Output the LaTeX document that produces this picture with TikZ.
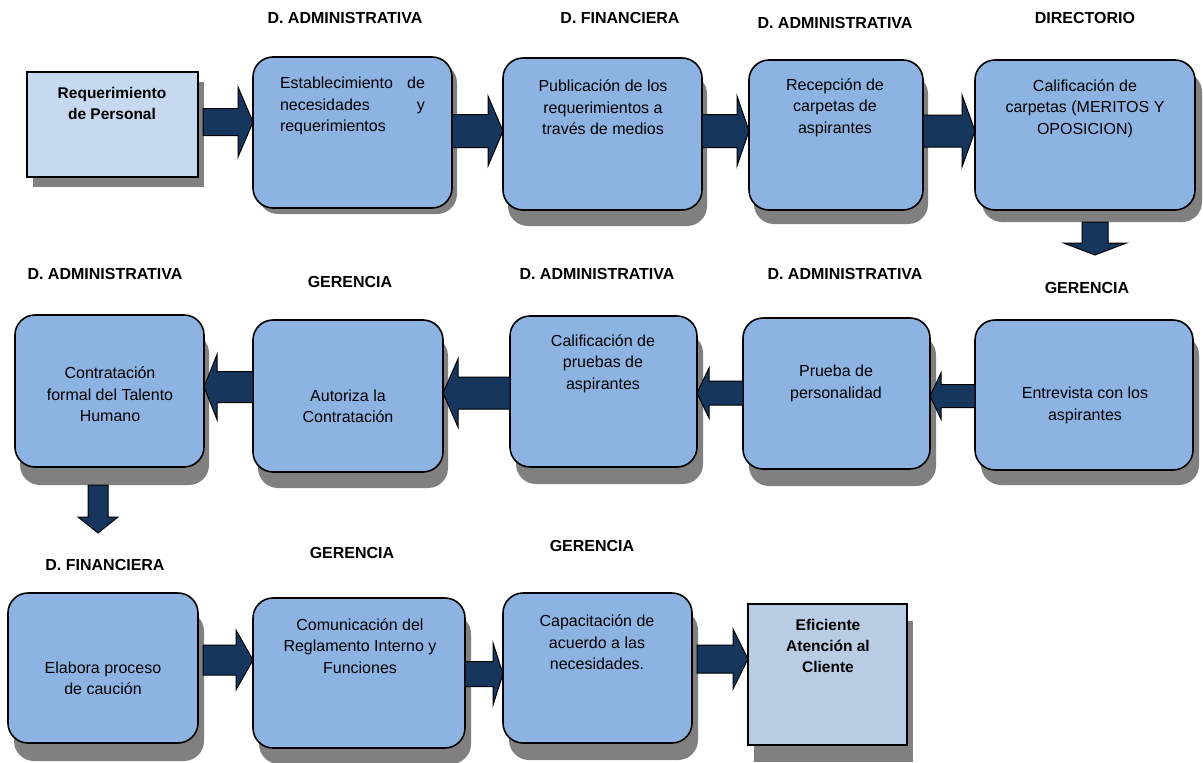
\documentclass[tikz,border=0pt]{standalone}
\usepackage{fontspec}
\setmainfont{Liberation Sans}
\usetikzlibrary{calc,backgrounds}

\definecolor{boxblue}{RGB}{141,179,226}
\definecolor{startblue}{RGB}{198,217,241}
\definecolor{endblue}{RGB}{184,204,228}
\definecolor{navy}{RGB}{23,54,93}
\definecolor{shadowgray}{RGB}{128,128,128}

\tikzset{
  x=1pt, y=-1pt,
  stage/.style={draw=black, line width=1.6pt, fill=boxblue, rounded corners=20pt,
    inner sep=0pt, outer sep=0pt},
  terminal/.style={draw=black, line width=1.4pt, inner sep=0pt, outer sep=0pt},
  boxtext/.style={align=center, inner sep=0pt,
    font=\fontsize{16}{21.5}\selectfont},
  boldtext/.style={boxtext, font=\fontsize{15.5}{21}\selectfont\bfseries},
  unit/.style={inner sep=0pt, font=\fontsize{16}{18}\selectfont\bfseries},
  flow/.style={fill=navy, draw=black, line width=1pt, line join=miter},
}

% box from its two corners: name, style, x1, y1, x2, y2
\newcommand\stagebox[6]{%
  \node[#2, minimum width={(#5-#3)*1pt}, minimum height={(#6-#4)*1pt}]
    (#1) at ({(#3+#5)/2},{(#4+#6)/2}) {};}

% drop shadow behind a box: name, dx, dy, corner radius
\newcommand\dropshadow[4]{%
  \fill[shadowgray, rounded corners=#4]
    ($(#1.north west)+(#2,#3)$) rectangle ($(#1.south east)+(#2,#3)$);}

% block arrow pointing right: from, to, axis y, shaft half, head half, head length, start offset
\newcommand\arrowright[7]{%
  \path[flow] let \p1=(#1.east), \p2=(#2.west) in
    ({\x1+#7pt},{-(#3-#4)*1pt}) -- ({\x2-#6pt},{-(#3-#4)*1pt})
    -- ({\x2-#6pt},{-(#3-#5)*1pt}) -- (\x2,{-#3pt})
    -- ({\x2-#6pt},{-(#3+#5)*1pt}) -- ({\x2-#6pt},{-(#3+#4)*1pt})
    -- ({\x1+#7pt},{-(#3+#4)*1pt}) -- cycle;}

% block arrow pointing left: from, to, axis y, shaft half, head half, head length
\newcommand\arrowleft[6]{%
  \path[flow] let \p1=(#1.west), \p2=(#2.east) in
    (\x1,{-(#3-#4)*1pt}) -- ({\x2+#6pt},{-(#3-#4)*1pt})
    -- ({\x2+#6pt},{-(#3-#5)*1pt}) -- (\x2,{-#3pt})
    -- ({\x2+#6pt},{-(#3+#5)*1pt}) -- ({\x2+#6pt},{-(#3+#4)*1pt})
    -- (\x1,{-(#3+#4)*1pt}) -- cycle;}

% block arrow pointing down: from, tip coordinate, shaft half, head half, head length, start offset
\newcommand\arrowdown[6]{%
  \path[flow] let \p1=(#1.south), \p2=(#2) in
    ({\x2-#3pt},{\y1-#6pt}) -- ({\x2-#3pt},{\y2+#5pt})
    -- ({\x2-#4pt},{\y2+#5pt}) -- (\x2,\y2)
    -- ({\x2+#4pt},{\y2+#5pt}) -- ({\x2+#3pt},{\y2+#5pt})
    -- ({\x2+#3pt},{\y1-#6pt}) -- cycle;}

\begin{document}
\begin{tikzpicture}
\useasboundingbox (0,0) rectangle (1203,763);

% ---- first row
\stagebox{req}{terminal, fill=startblue}{27}{72}{198}{177}
\stagebox{est}{stage}{253}{57}{452}{208}
\stagebox{pub}{stage}{503}{58}{702}{210}
\stagebox{rec}{stage}{749}{60}{923}{210}
\stagebox{cal}{stage}{975}{60}{1195}{210}

% ---- second row
\stagebox{con}{stage}{15}{315}{204}{467}
\stagebox{aut}{stage}{253}{320}{443}{472}
\stagebox{pru}{stage}{510}{316}{697}{467}
\stagebox{per}{stage}{743}{318}{930}{469}
\stagebox{ent}{stage}{975}{320}{1193}{470}

% ---- third row
\stagebox{ela}{stage}{8}{593}{198}{743}
\stagebox{com}{stage}{253}{598}{465}{748}
\stagebox{cap}{stage}{503}{593}{692}{743}
\stagebox{efi}{terminal, fill=endblue}{748}{604}{907}{745}

\begin{scope}[on background layer]
  \fill[white] (0,0) rectangle (1203,763);
  \dropshadow{req}{6}{10}{0pt}
  \dropshadow{est}{5}{6}{20pt}
  \dropshadow{pub}{5}{16}{20pt}
  \dropshadow{rec}{5}{14}{20pt}
  \dropshadow{cal}{7}{12}{20pt}
  \dropshadow{con}{5}{18}{20pt}
  \dropshadow{aut}{5}{16}{20pt}
  \dropshadow{pru}{6}{17}{20pt}
  \dropshadow{per}{6}{17}{20pt}
  \dropshadow{ent}{6}{15}{20pt}
  \dropshadow{ela}{6}{18}{20pt}
  \dropshadow{com}{6}{16}{20pt}
  \dropshadow{cap}{6}{17}{20pt}
  \dropshadow{efi}{6}{17}{0pt}
\end{scope}

% ---- texts inside the boxes
\node[boldtext] (req-t) at (112,103) {Requerimiento\\de Personal};
\node[boxtext, text width=145pt, align=left] (est-t) at (352.5,106)
  {Establecimiento\hfill de\\necesidades\hfill y\\requerimientos};
\node[boxtext] (pub-t) at (603,107.5) {Publicación de los\\requerimientos a\\través de medios};
\node[boxtext] (rec-t) at (835,107.5) {Recepción de\\carpetas de\\aspirantes};
\node[boxtext] (cal-t) at (1085,108.5) {Calificación de\\carpetas (MERITOS Y\\OPOSICION)};
\node[boxtext] (con-t) at (110,394.5) {Contratación\\formal del Talento\\Humano};
\node[boxtext] (aut-t) at (348,406.5) {Autoriza la\\Contratación};
\node[boxtext] (pru-t) at (603,363.5) {Calificación de\\pruebas de\\aspirantes};
\node[boxtext] (per-t) at (836,383.5) {Prueba de\\personalidad};
\node[boxtext] (ent-t) at (1085,405.5) {Entrevista con los\\aspirantes};
\node[boxtext] (ela-t) at (103,678.5) {Elabora proceso\\de caución};
\node[boxtext] (com-t) at (360,646) {Comunicación del\\Reglamento Interno y\\Funciones};
\node[boxtext] (cap-t) at (597,642.5) {Capacitación de\\acuerdo a las\\necesidades.};
\node[boldtext] (efi-t) at (828,646) {Eficiente\\Atención al\\Cliente};

% ---- responsible units
\node[unit] (u1) at (345,18) {D. ADMINISTRATIVA};
\node[unit] (u2) at (620,18) {D. FINANCIERA};
\node[unit] (u3) at (835,23) {D. ADMINISTRATIVA};
\node[unit] (u4) at (1085,18) {DIRECTORIO};
\node[unit] (u5) at (105,274) {D. ADMINISTRATIVA};
\node[unit] (u6) at (350,282) {GERENCIA};
\node[unit] (u7) at (597,274) {D. ADMINISTRATIVA};
\node[unit] (u8) at (845,274) {D. ADMINISTRATIVA};
\node[unit] (u9) at (1087,288) {GERENCIA};
\node[unit] (u10) at (105,565) {D. FINANCIERA};
\node[unit] (u11) at (352,553) {GERENCIA};
\node[unit] (u12) at (592,546) {GERENCIA};

% ---- flow arrows
\arrowright{req}{est}{122}{13.5}{35}{15}{5}
\arrowright{est}{pub}{131}{16.5}{35}{15}{0}
\arrowright{pub}{rec}{131}{16.5}{35}{12}{0}
\arrowright{rec}{cal}{131}{16}{36}{13}{0}
\coordinate (down1) at (1095,255);
\arrowdown{cal}{down1}{13}{31.5}{12}{12}

\arrowleft{ent}{per}{396}{11.5}{23}{11}
\arrowleft{per}{pru}{393}{12}{25}{12}
\arrowleft{pru}{aut}{393}{16}{34}{15}
\arrowleft{aut}{con}{387}{15.5}{32.5}{13}
\coordinate (down2) at (98,533);
\arrowdown{con}{down2}{10}{20}{16}{18}

\arrowright{ela}{com}{660}{15}{30}{17}{5}
\arrowright{com}{cap}{674}{12.5}{31}{10}{0}
\arrowright{cap}{efi}{659}{14}{30}{15}{5}
\end{tikzpicture}
\end{document}
